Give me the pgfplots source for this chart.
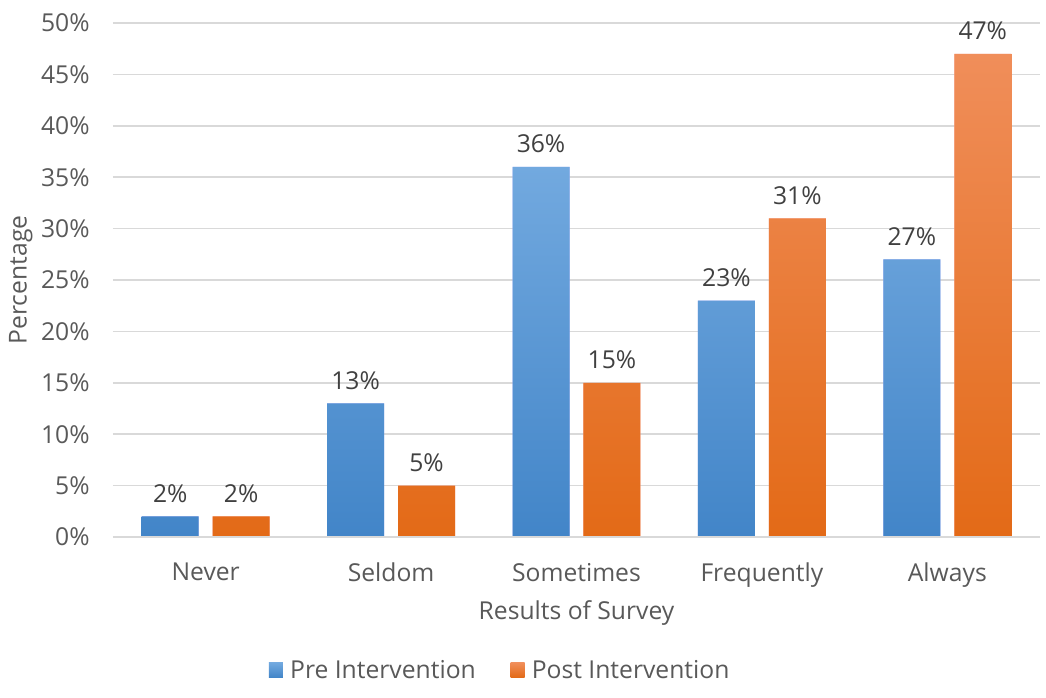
\documentclass[border=0pt]{standalone}
\usepackage{pgfplots}
\pgfplotsset{compat=1.18}
\usepackage{fontspec}
\setmainfont{Open Sans}
\definecolor{gridc}{HTML}{D9D9D9}
\definecolor{tickc}{HTML}{595959}
\definecolor{labc}{HTML}{404040}
\definecolor{blueT}{HTML}{72A9DF}
\definecolor{blueB}{HTML}{4285C8}
\definecolor{orT}{HTML}{F08E5A}
\definecolor{orB}{HTML}{E36A17}
\begin{document}
\begin{tikzpicture}[x=1pt,y=1pt]
\path[use as bounding box] (-84.75pt,-120.75pt) rectangle (699.75pt,402.75pt);
\begin{axis}[
  at={(0,0)}, anchor=south west,
  scale only axis,
  width=695.25pt, height=385.5pt,
  xmin=-0.5, xmax=4.5,
  ymin=0, ymax=50,
  ytick={0,5,...,50},
  yticklabel={\pgfmathprintnumber{\tick}\%},
  /pgf/number format/assume math mode=true,
  xtick={0,1,2,3,4},
  xticklabels={Never,Seldom,Sometimes,Frequently,Always},
  axis line style={draw=none},
  axis x line*=bottom,
  major tick length=0pt,
  ymajorgrids, grid style={gridc, line width=1.2pt},
  tick label style={font=\fontsize{18.5}{22}\selectfont, text=tickc},
  yticklabel style={xshift=-14pt},
  xticklabel style={yshift=-16pt},
  xlabel={Results of Survey},
  ylabel={Percentage},
  label style={font=\fontsize{18.5}{22}\selectfont, text=tickc},
  xlabel style={yshift=-3pt},
  ylabel style={yshift=-0.5pt},
  ybar, bar width=42.75pt,
  nodes near coords={\pgfmathprintnumber{\pgfplotspointmeta}\%},
  nodes near coords style={font=\fontsize{18.5}{22}\selectfont, text=labc, /pgf/number format/assume math mode=true, yshift=7pt},
  legend style={draw=none, at={(0.418,-0.259)}, anchor=center, legend columns=2,
    font=\fontsize{18.5}{22}\selectfont, text=tickc,
    /tikz/every even column/.append style={column sep=24pt}},
  legend image code/.code={\fill[#1] (0pt,-5.5pt) rectangle (10.5pt,5.5pt); \path (14pt,0pt);},
]
\addplot+[bar shift=-26.6pt, draw=none, top color=blueT, bottom color=blueB] coordinates {(0,2) (1,13) (2,36) (3,23) (4,27)};
\addplot+[bar shift=26.6pt, draw=none, top color=orT, bottom color=orB] coordinates {(0,2) (1,5) (2,15) (3,31) (4,47)};
\legend{Pre Intervention, Post Intervention}
\draw[gridc, line width=1.2pt] (rel axis cs:0,0) -- (rel axis cs:1,0);
\end{axis}
\end{tikzpicture}
\end{document}
